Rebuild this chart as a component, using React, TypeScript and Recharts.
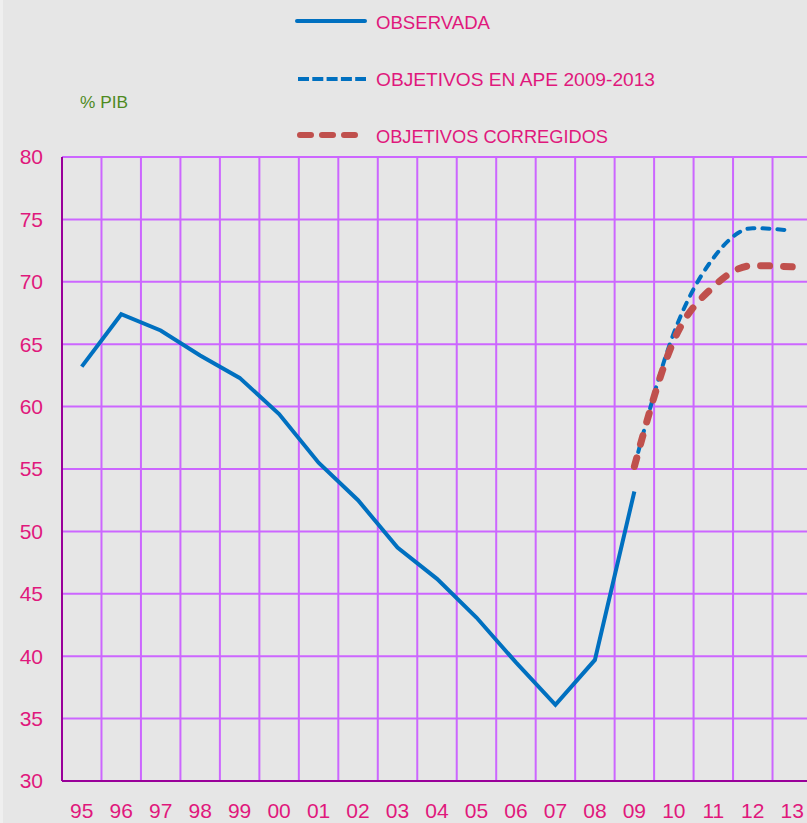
import { LineChart, Line, XAxis, YAxis, CartesianGrid } from 'recharts';

// Deuda / % PIB, 1995-2013
const years = ['95', '96', '97', '98', '99', '00', '01', '02', '03', '04', '05', '06', '07', '08', '09', '10', '11', '12', '13'];
const observada = [63.2, 67.4, 66.1, 64.1, 62.3, 59.4, 55.5, 52.5, 48.7, 46.2, 43.1, 39.5, 36.1, 39.7, 53.2, null, null, null, null];
const objetivosApe = [null, null, null, null, null, null, null, null, null, null, null, null, null, null, 55.2, 65.9, 71.9, 74.3, 74.1];
const objetivosCorregidos = [null, null, null, null, null, null, null, null, null, null, null, null, null, null, 55.2, 65.3, 69.6, 71.3, 71.2];
const yTicks = [30, 35, 40, 45, 50, 55, 60, 65, 70, 75, 80];

const BLUE = '#0070c0';
const RED = '#c0504d';
const PINK = '#e0187c';
const GRID = '#cc66ff';
const AXIS = '#990099';
const FONT = '"Liberation Sans", Arial, sans-serif';

const data = years.map((year, i) => ({
    pos: i + 0.5,
    year,
    observada: observada[i],
    ape: objetivosApe[i],
    corregidos: objetivosCorregidos[i],
}));

const labelTicks = years.map((_, i) => i + 0.5);
const gridTicks = years.map((_, i) => i).concat([years.length]);

function LegendBox() {
    return (
        <svg width={807} height={157} style={{ position: 'absolute', left: 0, top: 0 }}>
            <line x1={297} y1={21} x2={365} y2={21} stroke={BLUE} strokeWidth={4} strokeLinecap="round" />
            <line x1={298} y1={79} x2={366} y2={79} stroke={BLUE} strokeWidth={4} strokeDasharray="11 3.3" />
            <line x1={300} y1={135} x2={355} y2={135} stroke={RED} strokeWidth={6} strokeDasharray="11 11" strokeLinecap="round" />
            <g fill={PINK} fontFamily={FONT} fontSize={19}>
                <text x={376} y={29} textLength={114} lengthAdjust="spacingAndGlyphs">OBSERVADA</text>
                <text x={376} y={86} textLength={279} lengthAdjust="spacingAndGlyphs">OBJETIVOS EN APE 2009-2013</text>
                <text x={376} y={143} textLength={232} lengthAdjust="spacingAndGlyphs">OBJETIVOS CORREGIDOS</text>
            </g>
            <text x={80} y={108} fill="#4e8a1e" fontFamily={FONT} fontSize={16} textLength={48} lengthAdjust="spacingAndGlyphs">% PIB</text>
        </svg>
    );
}

export default function App() {
    return (
        <div style={{ position: 'absolute', left: 0, top: 0, width: 807, height: 823, overflow: 'hidden', background: '#e6e6e6' }}>
            <div style={{ position: 'absolute', left: 0, top: 0, width: 3, height: 823, background: '#efefef' }} />
            <LineChart
                width={812}
                height={823}
                data={data}
                margin={{ top: 157, right: 0, bottom: 0, left: 0 }}
                style={{ fontFamily: FONT }}
            >
                <CartesianGrid xAxisId="grid" stroke={GRID} strokeWidth={2} />
                <XAxis
                    xAxisId="lbl"
                    dataKey="pos"
                    type="number"
                    domain={[0, years.length]}
                    ticks={labelTicks}
                    tickFormatter={(v: number) => years[Math.floor(v)]}
                    interval={0}
                    height={42}
                    axisLine={{ stroke: AXIS, strokeWidth: 2 }}
                    tickLine={false}
                    tickSize={0}
                    tickMargin={22}
                    tick={{ fill: PINK, fontSize: 21 }}
                />
                <XAxis xAxisId="grid" dataKey="pos" type="number" domain={[0, years.length]} ticks={gridTicks} height={0} hide />
                <YAxis
                    domain={[30, 80]}
                    ticks={yTicks}
                    width={62}
                    axisLine={{ stroke: AXIS, strokeWidth: 2 }}
                    tickLine={false}
                    tickSize={0}
                    tickMargin={19}
                    tick={{ fill: PINK, fontSize: 21 }}
                />
                <Line
                    xAxisId="lbl"
                    type="linear"
                    dataKey="observada"
                    stroke={BLUE}
                    strokeWidth={4}
                    dot={false}
                    isAnimationActive={false}
                />
                <Line
                    xAxisId="lbl"
                    type="monotone"
                    dataKey="ape"
                    stroke={BLUE}
                    strokeWidth={4}
                    strokeDasharray="7 8"
                    strokeLinecap="round"
                    dot={false}
                    isAnimationActive={false}
                />
                <Line
                    xAxisId="lbl"
                    type="monotone"
                    dataKey="corregidos"
                    stroke={RED}
                    strokeWidth={7}
                    strokeDasharray="9 14"
                    strokeLinecap="round"
                    dot={false}
                    isAnimationActive={false}
                />
            </LineChart>
            <LegendBox />
        </div>
    );
}
